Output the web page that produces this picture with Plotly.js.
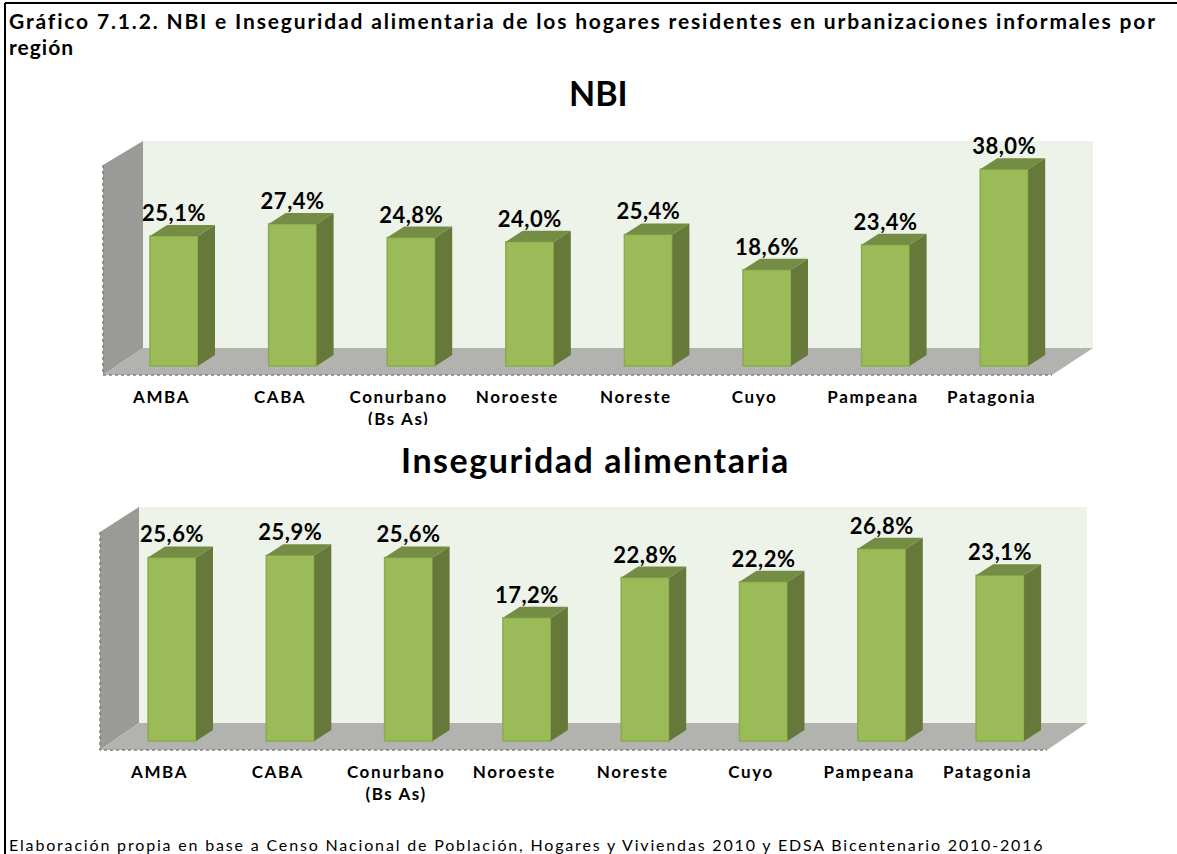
<!DOCTYPE html>
<html><head><meta charset="utf-8">
<script src="https://cdn.plot.ly/plotly-3.0.1.min.js"></script>
<style>html,body{margin:0;padding:0;background:#fff;overflow:hidden}
.textpoint text{letter-spacing:.5px}
.xtick text,.x2tick text{letter-spacing:1.6px}
.annotation[data-index="0"] text{letter-spacing:1.84px}
.annotation[data-index="1"] text{letter-spacing:1px}
.annotation[data-index="3"] text{letter-spacing:1.55px}
.annotation[data-index="4"] text{letter-spacing:1.83px}
</style>
</head><body><div id="chart" style="width:1177px;height:854px"></div>
<script>
const categories = ['AMBA','CABA','Conurbano<br>(Bs As)','Noroeste','Noreste','Cuyo','Pampeana','Patagonia'];
const nbiValues = [25.1,27.4,24.8,24.0,25.4,18.6,23.4,38.0];
const inseguridadValues = [25.6,25.9,25.6,17.2,22.8,22.2,26.8,23.1];
const fmt = v => v.toFixed(1).replace('.',',') + '%';

const W=1177,H=854;
const px = x => x/W, py = y => 1-y/H;
const C = {front:'#9bbb59',edge:'#8cab4e',side:'#66783a',top:'#748c43',wall:'#eef3ea',floor:'#b2b3af',left:'#9a9b97',dot:'#7f7f7f'};
const FONT='Lato, "Open Sans", sans-serif';

const panels = [
 {vals:nbiValues, x0:174, dx:118.6, base:366, sy:5.18, wl:143, wr:1093, wt:141, wb:348, fl:103, fr:1052, fb:375, lt:165, left:100, right:1110, top:130, bottom:380, xa:'x',ya:'y'},
 {vals:inseguridadValues, x0:172, dx:118.3, base:741, sy:7.17, wl:139, wr:1087, wt:507, wb:723, fl:100, fr:1047, fb:750, lt:532, left:96, right:1104, top:496, bottom:755, xa:'x2',ya:'y2'}
];
const traces=[], shapes=[], layout={};
panels.forEach((p,k)=>{
  const idx=p.vals.map((_,i)=>i);
  const halfW=24/p.dx, depX=17/p.dx, depY=11/p.sy;
  const toX=v=>(v-p.x0)/p.dx, toY=v=>(p.base-v)/p.sy;
  const poly=(pts,fill)=>shapes.push({type:'path',xref:'paper',yref:'paper',layer:'below',line:{width:0},fillcolor:fill,
     path:'M'+pts.map(q=>px(q[0])+','+py(q[1])).join('L')+'Z'});
  poly([[p.wl,p.wt],[p.wr,p.wt],[p.wr,p.wb],[p.wl,p.wb]],C.wall);
  poly([[p.fl,p.lt],[p.wl,p.wt],[p.wl,p.wb],[p.fl,p.fb]],C.left);
  poly([[p.fl,p.fb],[p.wl,p.wb],[p.wr,p.wb],[p.fr,p.fb]],C.floor);
  shapes.push({type:'path',xref:'paper',yref:'paper',layer:'below',fillcolor:'rgba(0,0,0,0)',line:{color:C.dot,width:1.5,dash:'dot'},
     path:'M'+px(p.fl)+','+py(p.lt)+'L'+px(p.fl)+','+py(p.fb)+'L'+px(p.fr)+','+py(p.fb)});
  const side={x:[],y:[]}, top={x:[],y:[]};
  p.vals.forEach((v,i)=>{
    const r=i+halfW,l=i-halfW;
    side.x.push(r,r+depX,r+depX,r,r,null); side.y.push(0,depY,v+depY,v,0,null);
    top.x.push(l,l+depX,r+depX,r,l,null); top.y.push(v,v+depY,v+depY,v,v,null);
  });
  traces.push({type:'bar',x:idx,y:p.vals,width:48/p.dx,xaxis:p.xa,yaxis:p.ya,marker:{color:C.front,line:{color:C.edge,width:1.5}},hoverinfo:'skip'});
  traces.push({type:'scatter',mode:'lines',x:side.x,y:side.y,fill:'toself',fillcolor:C.side,line:{width:0,color:C.side},xaxis:p.xa,yaxis:p.ya,hoverinfo:'skip'});
  traces.push({type:'scatter',mode:'lines',x:top.x,y:top.y,fill:'toself',fillcolor:C.top,line:{width:0,color:C.top},xaxis:p.xa,yaxis:p.ya,hoverinfo:'skip'});
  traces.push({type:'scatter',mode:'text',x:idx,y:p.vals.map(v=>v+20.5/p.sy),text:p.vals.map(fmt),textposition:'middle center',
     textfont:{family:FONT,size:22,color:'#000',weight:700},xaxis:p.xa,yaxis:p.ya,hoverinfo:'skip',cliponaxis:false});
  const s=k?'2':'';
  layout['xaxis'+s]={domain:[px(p.left),px(p.right)],range:[toX(p.left),toX(p.right)],anchor:'y'+s,tickmode:'array',
     tickvals:idx.map(i=>i-12.5/p.dx),ticktext:categories,ticks:'',showgrid:false,zeroline:false,showline:false,ticklabelstandoff:5,
     tickfont:{family:FONT,size:17,color:'#000',weight:700},tickangle:0,automargin:false};
  layout['yaxis'+s]={domain:[py(p.bottom),py(p.top)],range:[toY(p.bottom),toY(p.top)],anchor:'x'+s,showticklabels:false,ticks:'',showgrid:false,zeroline:false,showline:false,automargin:false};
});
// frame lines
shapes.push({type:'line',xref:'paper',yref:'paper',x0:px(5),x1:px(5),y0:0,y1:py(3),line:{color:'#000',width:2}});
shapes.push({type:'line',xref:'paper',yref:'paper',x0:px(5),x1:1,y0:py(3),y1:py(3),line:{color:'#000',width:2}});
// the source image cuts the second label line off
shapes.push({type:'rect',xref:'paper',yref:'paper',layer:'above',x0:px(300),x1:px(500),y0:py(444),y1:py(425),fillcolor:'#fff',line:{width:0}});

const note=(text,x,y,size,anchor,weight)=>({text,xref:'paper',yref:'paper',x:px(x),y:py(y),xanchor:anchor,yanchor:'middle',showarrow:false,align:'left',font:{family:FONT,size,color:'#000',weight:weight}});
layout.annotations=[
 note('Gráfico 7.1.2. NBI e Inseguridad alimentaria de los hogares residentes en urbanizaciones informales por',7,20,21,'left',700),
 note('región',7,47,21,'left',700),
 note('NBI',598,92,34,'center',700),
 note('Inseguridad alimentaria',577,459,34,'center',700),
 note('Elaboración propia en base a Censo Nacional de Población, Hogares y Viviendas 2010 y EDSA Bicentenario 2010-2016',7,844,16,'left',400)
];
Object.assign(layout,{width:W,height:H,margin:{l:0,r:0,t:0,b:0},showlegend:false,paper_bgcolor:'#fff',plot_bgcolor:'rgba(0,0,0,0)',barmode:'overlay',shapes});
Plotly.newPlot('chart',traces,layout,{staticPlot:true,displayModeBar:false});
</script></body></html>
